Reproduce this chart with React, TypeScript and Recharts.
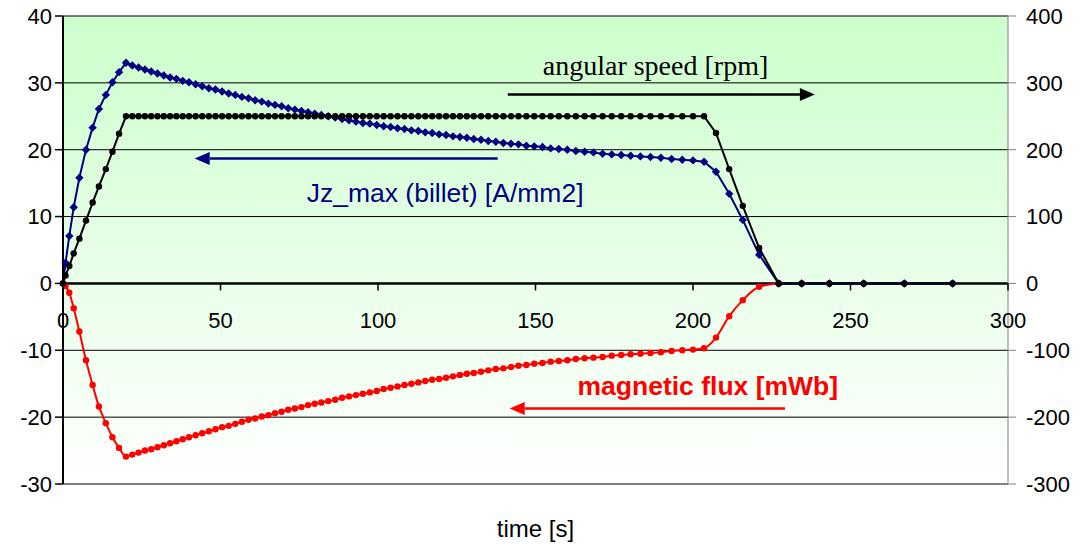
import React from 'react';
import { LineChart, Line, XAxis, YAxis, CartesianGrid, ReferenceLine, ReferenceDot } from 'recharts';

// shared time points [s]
const TIME = [
  0, 0.8, 2.0, 3.4, 5.2, 7.3, 9.4, 11.4, 13.6, 15.7, 17.8, 20.0,
  22, 24, 26, 28, 30, 32, 34, 36, 38, 40,
  42.1, 44.2, 46.3, 48.4, 50.5, 52.6, 54.7, 56.8, 58.9, 61.0, 63.1, 65.2, 67.3, 69.4, 71.5, 73.6, 75.7, 77.8, 79.9, 82.0,
  84.2, 86.4, 88.6, 90.8, 93.0, 95.2, 97.4, 99.6, 101.8, 104.0, 106.2, 108.4, 110.6, 112.8, 115.0, 117.2, 119.4, 121.6, 123.8, 126.0, 128.2, 130.4,
  132.7, 135.0, 137.4, 139.8, 142.2, 144.6, 147.1, 149.6, 152.2, 154.8, 157.4, 160.1, 162.8, 165.6, 168.4, 171.3, 174.2, 177.2, 180.2, 183.3, 186.5, 189.8, 193.2, 196.6, 200.0, 203.5,
  207.3, 211.5, 215.8, 221.0, 227.2,
  234.5, 243.3, 254.2, 267.1, 282.4,
];

// Jz_max (billet) [A/mm2], left axis
const JZ = [
  0, 3.1, 7.1, 11.4, 15.8, 20.0, 23.3, 26.1, 28.2, 30.1, 31.6, 33.0,
  32.6, 32.3, 32.0, 31.7, 31.4, 31.1, 30.8, 30.6, 30.3, 30.1,
  29.8, 29.5, 29.2, 29.0, 28.7, 28.4, 28.2, 27.9, 27.7, 27.4, 27.2, 26.9, 26.7, 26.5, 26.2, 26.0, 25.8, 25.6, 25.4, 25.2,
  25.0, 24.8, 24.6, 24.4, 24.2, 24.0, 23.9, 23.7, 23.5, 23.4, 23.2, 23.1, 22.9, 22.8, 22.6, 22.5, 22.3, 22.2, 22.0, 21.9, 21.8, 21.6,
  21.5, 21.3, 21.2, 21.0, 20.9, 20.8, 20.6, 20.5, 20.4, 20.2, 20.1, 20.0, 19.8, 19.7, 19.6, 19.4, 19.3, 19.2, 19.1, 19.0, 18.9, 18.8, 18.6, 18.5, 18.4, 18.2,
  16.7, 13.4, 9.5, 4.3, 0,
  0, 0, 0, 0, 0,
];

// angular speed [rpm], right axis
const SPEED = [
  0, 12, 26, 45, 67, 94, 121, 145, 171, 197, 224, 250,
  250, 250, 250, 250, 250, 250, 250, 250, 250, 250,
  250, 250, 250, 250, 250, 250, 250, 250, 250, 250, 250, 250, 250, 250, 250, 250, 250, 250, 250, 250,
  250, 250, 250, 250, 250, 250, 250, 250, 250, 250, 250, 250, 250, 250, 250, 250, 250, 250, 250, 250, 250, 250,
  250, 250, 250, 250, 250, 250, 250, 250, 250, 250, 250, 250, 250, 250, 250, 250, 250, 250, 250, 250, 250, 250, 250, 250, 250, 250,
  225, 171, 116, 53, 0,
  0, 0, 0, 0, 0,
];

// magnetic flux [mWb], left axis
const FLUX = [
  0, -0.4, -1.4, -3.7, -7.2, -11.5, -15.2, -18.4, -20.9, -23.0, -24.6, -25.9,
  -25.6, -25.3, -25.0, -24.8, -24.5, -24.2, -23.9, -23.6, -23.3, -23.0,
  -22.7, -22.4, -22.1, -21.8, -21.5, -21.3, -21.0, -20.7, -20.4, -20.2, -19.9, -19.7, -19.4, -19.2, -18.9, -18.7, -18.5, -18.2, -18.0, -17.8,
  -17.6, -17.4, -17.1, -16.9, -16.7, -16.5, -16.3, -16.1, -15.8, -15.6, -15.4, -15.2, -15.0, -14.8, -14.6, -14.4, -14.3, -14.1, -13.9, -13.7, -13.5, -13.4,
  -13.2, -13.0, -12.8, -12.7, -12.5, -12.3, -12.2, -12.0, -11.9, -11.7, -11.6, -11.5, -11.3, -11.2, -11.1, -11.0, -10.8, -10.7, -10.6, -10.5, -10.4, -10.3, -10.1, -10.0, -9.9, -9.7,
  -8.1, -4.9, -2.5, -0.5, 0,
  null, null, null, null, null,
];

const X_TICKS = [0, 50, 100, 150, 200, 250, 300];
const LEFT_TICKS = [-30, -20, -10, 0, 10, 20, 30, 40];
const RIGHT_TICKS = [-300, -200, -100, 0, 100, 200, 300, 400];

const data = TIME.map((t, i) => ({ t, jz: JZ[i], speed: SPEED[i], flux: FLUX[i] }));

const W = 1079;
const H = 544;
const M_TOP = 16;
const X_AXIS_H = 60;
const PLOT_H = H - M_TOP - X_AXIS_H;
const ZERO_Y = M_TOP + PLOT_H * (40 / 70);

const SANS = 'Liberation Sans, Arial, sans-serif';
const SERIF = 'Liberation Serif, Times New Roman, serif';

const XTick = (props: any) => {
  const { x, payload } = props;
  return (
    <g>
      <line x1={x} x2={x} y1={ZERO_Y} y2={ZERO_Y + 7} stroke="#000" strokeWidth={1.5} />
      <text x={x} y={ZERO_Y + 37} dy="0.36em" textAnchor="middle" fontSize={22} fontFamily={SANS} fill="#000">
        {payload.value}
      </text>
    </g>
  );
};

const Diamond = (props: any) => {
  const { cx, cy, index } = props;
  if (cx == null || cy == null) return <g key={index} />;
  const s = 4.2;
  return (
    <polygon key={index} points={`${cx},${cy - s} ${cx + s},${cy} ${cx},${cy + s} ${cx - s},${cy}`} fill="#000080" />
  );
};

const arrowShape = (color: string) => (props: any) => {
  const { x1, y1, x2, y2 } = props;
  const dir = x2 > x1 ? 1 : -1;
  const len = 15;
  const half = 6.5;
  const bx = x2 - dir * len;
  return (
    <g>
      <line x1={x1} y1={y1} x2={bx} y2={y2} stroke={color} strokeWidth={2.5} />
      <polygon points={`${x2},${y2} ${bx},${y2 - half} ${bx},${y2 + half}`} fill={color} />
    </g>
  );
};

const textShape = (text: string, color: string, font: string, size: number, weight = 'normal') => (props: any) => (
  <text x={props.cx} y={props.cy} dy="0.35em" textAnchor="middle" fill={color} fontFamily={font} fontSize={size} fontWeight={weight}>
    {text}
  </text>
);

export default function App() {
  return (
    <div style={{ width: W, height: H }}>
      <style>{`body{margin:0}`}</style>
      <LineChart width={W} height={H} data={data} margin={{ top: M_TOP, right: 8, bottom: 0, left: 8 }}>
        <defs>
          <linearGradient id="bg" x1="0" y1="0" x2="0" y2="1">
            <stop offset="0" stopColor="#ccffcc" />
            <stop offset="1" stopColor="#ffffff" />
          </linearGradient>
        </defs>
        <CartesianGrid yAxisId="left" vertical={false} stroke="#000" fill="url(#bg)" fillOpacity={1} />
        <XAxis
          dataKey="t"
          type="number"
          domain={[0, 300]}
          ticks={X_TICKS}
          interval={0}
          height={X_AXIS_H}
          axisLine={false}
          tickLine={false}
          tick={<XTick />}
          label={{ value: 'time [s]', position: 'insideBottom', offset: 7, fontSize: 24, fontFamily: SANS, fill: '#000' }}
        />
        <YAxis
          yAxisId="left"
          domain={[-30, 40]}
          ticks={LEFT_TICKS}
          interval={0}
          width={55}
          tickSize={8}
          tickMargin={3}
          axisLine={{ stroke: '#000', strokeWidth: 2 }}
          tickLine={{ stroke: '#000', strokeWidth: 1.5 }}
          tick={{ fill: '#000', fontSize: 22, fontFamily: SANS }}
        />
        <YAxis
          yAxisId="right"
          orientation="right"
          domain={[-300, 400]}
          ticks={RIGHT_TICKS}
          interval={0}
          width={63}
          tickSize={8}
          tickMargin={10}
          axisLine={{ stroke: '#808080', strokeWidth: 1 }}
          tickLine={{ stroke: '#808080', strokeWidth: 1 }}
          tick={{ fill: '#000', fontSize: 22, fontFamily: SANS }}
        />
        <ReferenceLine yAxisId="left" y={0} stroke="#000" strokeWidth={2.5} />

        <Line
          yAxisId="left"
          dataKey="flux"
          type="monotone"
          stroke="#ff0000"
          strokeWidth={2}
          dot={{ r: 3.2, fill: '#ff0000', stroke: 'none' }}
          connectNulls={false}
          isAnimationActive={false}
        />
        <Line
          yAxisId="left"
          dataKey="jz"
          type="linear"
          stroke="#000080"
          strokeWidth={2}
          dot={Diamond}
          isAnimationActive={false}
        />
        <Line
          yAxisId="right"
          dataKey="speed"
          type="linear"
          stroke="#000"
          strokeWidth={2}
          dot={{ r: 3.2, fill: '#000', stroke: 'none' }}
          isAnimationActive={false}
        />

        <ReferenceLine yAxisId="left" segment={[{ x: 141.2, y: 28.25 }, { x: 238.7, y: 28.25 }]} shape={arrowShape('#000')} />
        <ReferenceLine yAxisId="left" segment={[{ x: 138, y: 18.7 }, { x: 41.8, y: 18.7 }]} shape={arrowShape('#000080')} />
        <ReferenceLine yAxisId="left" segment={[{ x: 229.2, y: -18.7 }, { x: 141.8, y: -18.7 }]} shape={arrowShape('#ff0000')} />

        <ReferenceDot yAxisId="left" x={188.1} y={32.7} r={0} shape={textShape('angular speed [rpm]', '#000', SERIF, 28)} />
        <ReferenceDot yAxisId="left" x={121.3} y={13.6} r={0} shape={textShape('Jz_max (billet) [A/mm2]', '#000080', SANS, 26.5)} />
        <ReferenceDot yAxisId="left" x={204.7} y={-15.25} r={0} shape={textShape('magnetic flux [mWb]', '#ff0000', SANS, 26.5, 'bold')} />
      </LineChart>
    </div>
  );
}
